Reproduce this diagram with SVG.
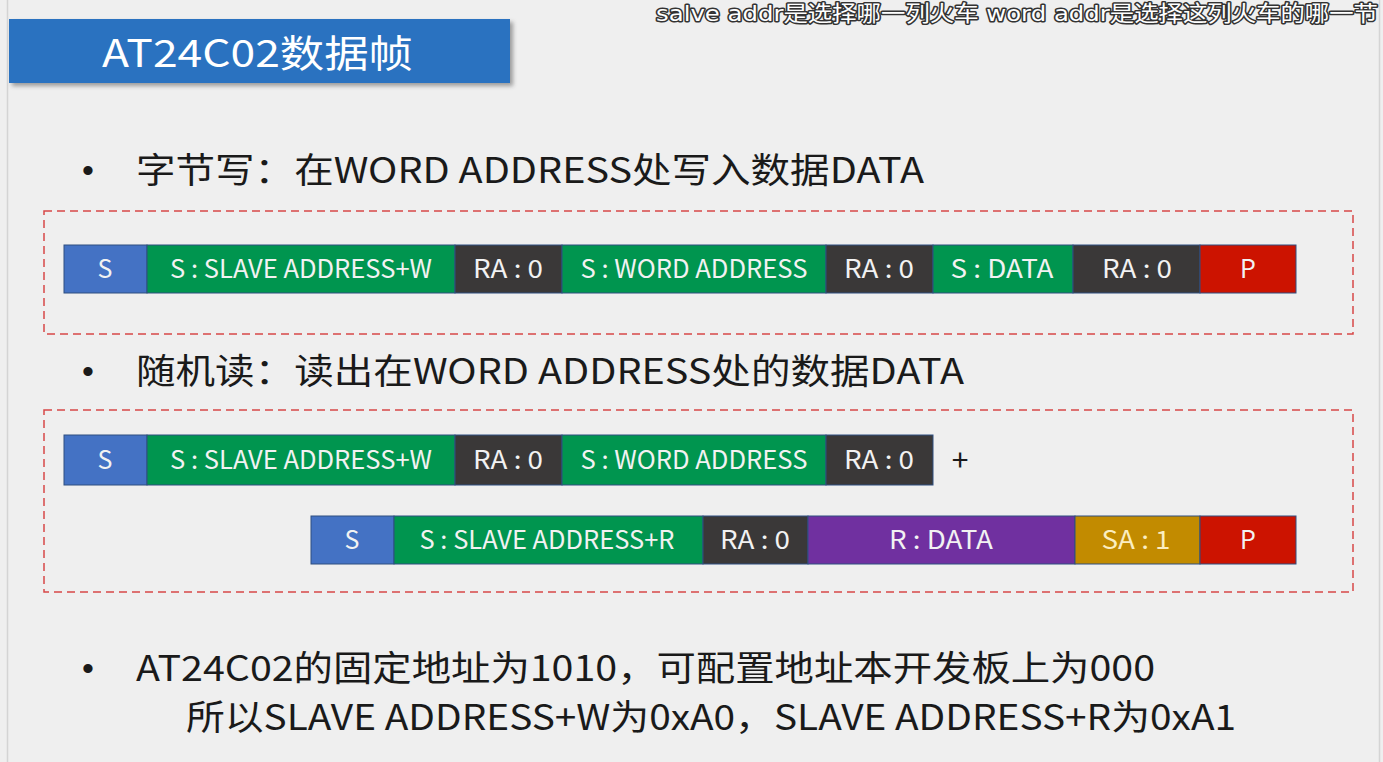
<svg xmlns="http://www.w3.org/2000/svg" width="1383" height="762" viewBox="0 0 1383 762">
<defs>
<filter id="sh" x="-5%" y="-20%" width="115%" height="150%"><feDropShadow dx="3" dy="3" stdDeviation="2" flood-color="#000" flood-opacity="0.35"/></filter>
</defs>
<style>
.bg{fill:#efefef}
.body{font-family:"Noto Sans CJK SC","Noto Sans",sans-serif;font-size:35px;fill:#1a1a1a}
.dot{font-family:"Liberation Sans",sans-serif;font-size:34px;fill:#1a1a1a}
.seg{stroke:#2f4f80;stroke-width:1}
.bt{font-family:"Noto Sans CJK SC","Noto Sans",sans-serif;font-size:25px;fill:#f2f2f2;text-anchor:middle}
.blue{fill:#4472c4}.green{fill:#00954f}.dark{fill:#3a3838}.red{fill:#cc1300}.purple{fill:#7030a0}.gold{fill:#c28b00}
.dash{fill:none;stroke:#d84848;stroke-width:1.5;stroke-dasharray:8 5}
.sub{font-family:"DejaVu Sans","Noto Sans CJK SC",sans-serif;font-size:22px;fill:#ffffff;stroke:#333;stroke-width:3;paint-order:stroke;stroke-linejoin:round}
</style>
<rect class="bg" x="0" y="0" width="1383" height="762"/>
<line x1="7.5" y1="0" x2="7.5" y2="762" stroke="#d4d4d4" stroke-width="1.5"/>
<line x1="1379.5" y1="0" x2="1379.5" y2="762" stroke="#d4d4d4" stroke-width="1.5"/>
<text class="sub" x="656" y="21" textLength="722" lengthAdjust="spacingAndGlyphs">salve addr是选择哪一列火车  word addr是选择这列火车的哪一节</text>

<g id="title">
<rect x="9" y="19" width="501" height="64" fill="#2a72c0" filter="url(#sh)"/>
<text x="102" y="67" font-family="Noto Sans CJK SC,Noto Sans,sans-serif" font-size="38" fill="#ffffff" textLength="311" lengthAdjust="spacingAndGlyphs">AT24C02数据帧</text>
</g>

<g id="bullet1">
<text class="dot" x="82" y="182">•</text>
<text class="body" x="136" y="183" textLength="788" lengthAdjust="spacingAndGlyphs">字节写：在WORD ADDRESS处写入数据DATA</text>
</g>

<g id="frame-write">
<rect class="dash" x="44" y="211" width="1309" height="123"/>
<g id="w-s"><rect class="seg blue" x="64" y="245" width="83" height="48"/><text class="bt" x="105" y="278">S</text></g>
<g id="w-slave"><rect class="seg green" x="147" y="245" width="308" height="48"/><text class="bt" x="301" y="278" textLength="262" lengthAdjust="spacingAndGlyphs">S : SLAVE ADDRESS+W</text></g>
<g id="w-ra1"><rect class="seg dark" x="455" y="245" width="107" height="48"/><text class="bt" x="508" y="278" textLength="70" lengthAdjust="spacingAndGlyphs">RA : 0</text></g>
<g id="w-word"><rect class="seg green" x="562" y="245" width="264" height="48"/><text class="bt" x="694" y="278" textLength="227" lengthAdjust="spacingAndGlyphs">S : WORD ADDRESS</text></g>
<g id="w-ra2"><rect class="seg dark" x="826" y="245" width="107" height="48"/><text class="bt" x="879" y="278" textLength="70" lengthAdjust="spacingAndGlyphs">RA : 0</text></g>
<g id="w-data"><rect class="seg green" x="933" y="245" width="140" height="48"/><text class="bt" x="1002" y="278" textLength="103" lengthAdjust="spacingAndGlyphs">S : DATA</text></g>
<g id="w-ra3"><rect class="seg dark" x="1073" y="245" width="127" height="48"/><text class="bt" x="1137" y="278" textLength="70" lengthAdjust="spacingAndGlyphs">RA : 0</text></g>
<g id="w-p"><rect class="seg red" x="1200" y="245" width="96" height="48"/><text class="bt" x="1248" y="278">P</text></g>
</g>

<g id="bullet2">
<text class="dot" x="82" y="383">•</text>
<text class="body" x="136" y="384" textLength="828" lengthAdjust="spacingAndGlyphs">随机读：读出在WORD ADDRESS处的数据DATA</text>
</g>

<g id="frame-read">
<rect class="dash" x="44" y="410" width="1309" height="182"/>
<g id="r-s"><rect class="seg blue" x="64" y="435" width="83" height="50"/><text class="bt" x="105" y="469">S</text></g>
<g id="r-slave"><rect class="seg green" x="147" y="435" width="308" height="50"/><text class="bt" x="301" y="469" textLength="262" lengthAdjust="spacingAndGlyphs">S : SLAVE ADDRESS+W</text></g>
<g id="r-ra1"><rect class="seg dark" x="455" y="435" width="107" height="50"/><text class="bt" x="508" y="469" textLength="70" lengthAdjust="spacingAndGlyphs">RA : 0</text></g>
<g id="r-word"><rect class="seg green" x="562" y="435" width="264" height="50"/><text class="bt" x="694" y="469" textLength="227" lengthAdjust="spacingAndGlyphs">S : WORD ADDRESS</text></g>
<g id="r-ra2"><rect class="seg dark" x="826" y="435" width="107" height="50"/><text class="bt" x="879" y="469" textLength="70" lengthAdjust="spacingAndGlyphs">RA : 0</text></g>
<g id="plus"><text x="960" y="471" font-family="Noto Sans CJK SC,Noto Sans,sans-serif" font-size="30" fill="#1a1a1a" text-anchor="middle">+</text></g>

<g id="r2-s"><rect class="seg blue" x="311" y="516" width="83" height="48"/><text class="bt" x="352" y="549">S</text></g>
<g id="r2-slave"><rect class="seg green" x="394" y="516" width="309" height="48"/><text class="bt" x="547" y="549" textLength="255" lengthAdjust="spacingAndGlyphs">S : SLAVE ADDRESS+R</text></g>
<g id="r2-ra"><rect class="seg dark" x="703" y="516" width="105" height="48"/><text class="bt" x="755" y="549" textLength="70" lengthAdjust="spacingAndGlyphs">RA : 0</text></g>
<g id="r2-data"><rect class="seg purple" x="808" y="516" width="267" height="48"/><text class="bt" x="941" y="549" textLength="104" lengthAdjust="spacingAndGlyphs">R : DATA</text></g>
<g id="r2-sa"><rect class="seg gold" x="1075" y="516" width="125" height="48"/><text class="bt" x="1136" y="549" textLength="69" lengthAdjust="spacingAndGlyphs" style="fill:#fbeec0">SA : 1</text></g>
<g id="r2-p"><rect class="seg red" x="1200" y="516" width="96" height="48"/><text class="bt" x="1248" y="549">P</text></g>
</g>

<g id="bullet3">
<text class="dot" x="82" y="680">•</text>
<text class="body" x="136" y="681" textLength="1019" lengthAdjust="spacingAndGlyphs">AT24C02的固定地址为1010，可配置地址本开发板上为000</text>
<text class="body" x="186" y="730" textLength="1050" lengthAdjust="spacingAndGlyphs">所以SLAVE ADDRESS+W为0xA0，SLAVE ADDRESS+R为0xA1</text>
</g>
</svg>
